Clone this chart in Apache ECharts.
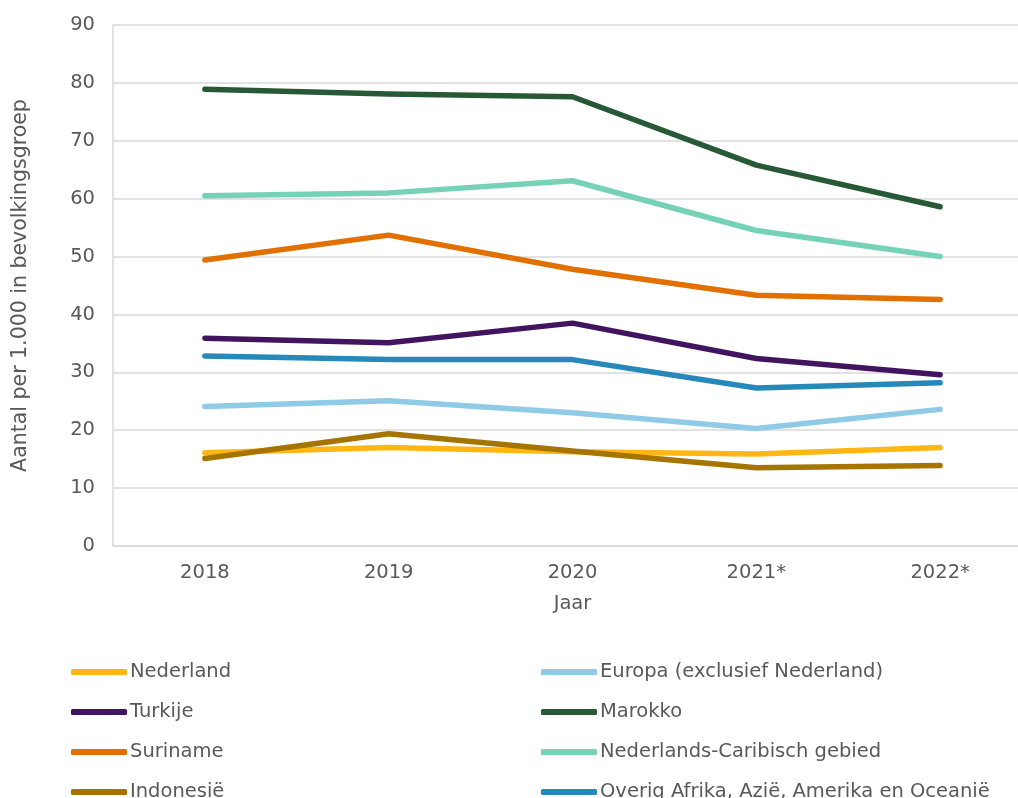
<!DOCTYPE html>
<html>
<head>
<meta charset="utf-8">
<script src="https://cdn.jsdelivr.net/npm/echarts@6/dist/echarts.min.js"></script>
<style>html,body{margin:0;padding:0;background:#fff}#c{width:1018px;height:798px}</style>
</head>
<body>
<div id="c"></div>
<script>
const categories = ['2018', '2019', '2020', '2021*', '2022*'];
const yTicks = [0, 10, 20, 30, 40, 50, 60, 70, 80, 90];
const nederland = [16.1, 17.0, 16.3, 15.9, 17.0];
const europa = [24.1, 25.1, 23.0, 20.3, 23.6];
const turkije = [35.9, 35.1, 38.5, 32.4, 29.6];
const marokko = [78.9, 78.1, 77.6, 65.8, 58.6];
const suriname = [49.4, 53.7, 47.8, 43.3, 42.6];
const nedCaribisch = [60.5, 61.0, 63.1, 54.5, 50.0];
const indonesie = [15.1, 19.4, 16.4, 13.5, 13.9];
const overig = [32.8, 32.2, 32.2, 27.3, 28.2];
const seriesNames = ['Nederland', 'Europa (exclusief Nederland)', 'Turkije', 'Marokko', 'Suriname', 'Nederlands-Caribisch gebied', 'Indonesië', 'Overig Afrika, Azië, Amerika en Oceanië'];

const seriesData = [nederland, europa, turkije, marokko, suriname, nedCaribisch, indonesie, overig];
const colors = ['#ffb612', '#8fcae7', '#42145f', '#275937', '#e17000', '#76d2b6', '#a67400', '#2789b9'];
const FONT = 'DejaVu Sans';
const TXT = '#595959';

const chart = echarts.init(document.getElementById('c'), null, {renderer: 'canvas'});
const legendCommon = {
  orient: 'vertical', top: 657, height: 300, padding: [5, 0, 5, 0], itemGap: 20, itemWidth: 56, itemHeight: 6, icon: 'roundRect',
  textStyle: {fontFamily: FONT, fontSize: 19.5, color: TXT, padding: [0, 0, 0, -2]},
  selectedMode: false
};
chart.setOption({
  animation: false,
  color: colors,
  textStyle: {fontFamily: FONT},
  grid: {left: 113, width: 919, top: 25, bottom: 252, containLabel: false, outerBoundsMode: 'none'},
  legend: [
    Object.assign({}, legendCommon, {left: 71, data: [seriesNames[0], seriesNames[2], seriesNames[4], seriesNames[6]]}),
    Object.assign({}, legendCommon, {left: 541, data: [seriesNames[1], seriesNames[3], seriesNames[5], seriesNames[7]]})
  ],
  xAxis: {
    type: 'category', data: categories, boundaryGap: true,
    name: 'Jaar', nameLocation: 'middle', nameGap: 48,
    nameTextStyle: {fontFamily: FONT, fontSize: 19.5, color: TXT},
    axisLine: {lineStyle: {color: '#d9d9d9', width: 1.5}},
    axisTick: {show: false},
    axisLabel: {fontFamily: FONT, fontSize: 19.5, color: TXT, margin: 17}
  },
  yAxis: {
    type: 'value', min: yTicks[0], max: yTicks[yTicks.length - 1], interval: 10,
    name: 'Aantal per 1.000 in bevolkingsgroep', nameLocation: 'middle', nameGap: 82,
    nameTextStyle: {fontFamily: FONT, fontSize: 20.5, color: TXT},
    axisLine: {show: true, lineStyle: {color: '#d9d9d9', width: 1.5}},
    axisTick: {show: false},
    splitLine: {lineStyle: {color: '#d9d9d9', width: 1.5}},
    axisLabel: {fontFamily: FONT, fontSize: 19.5, color: TXT, margin: 18}
  },
  series: seriesNames.map((n, i) => ({
    name: n, type: 'line', data: seriesData[i], symbol: 'none',
    lineStyle: {width: 5.5, color: colors[i], cap: 'round', join: 'round'},
    itemStyle: {color: colors[i]}
  }))
});
</script>
</body>
</html>
